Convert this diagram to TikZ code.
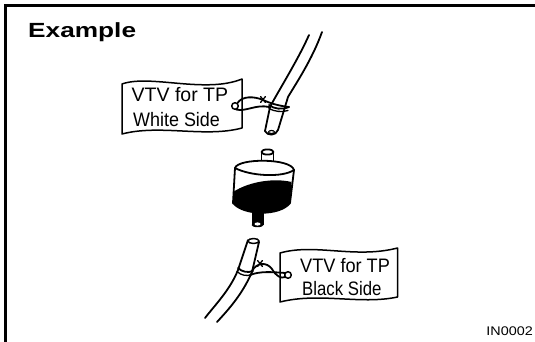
\documentclass[tikz,border=0pt]{standalone}
\usepackage{fontspec}
\setmainfont{Liberation Sans}
\begin{document}
\begin{tikzpicture}[x=1pt,y=-1pt,
  ink/.style={line width=1.8pt,line cap=round,line join=round},
  tagtext/.style={anchor=base west,inner sep=0pt,font=\fontsize{19.5}{19.5}\selectfont},
  frame/.style={line width=2.5pt}]
\useasboundingbox (0,0) rectangle (535,342);
% frame
\draw[frame] (5.5,350) -- (5.5,5.3) -- (545,5.3);
% title and code
\node[anchor=base west,inner sep=0pt,font=\bfseries\fontsize{20.5}{20.5}\selectfont] (title) at (28,37.5) {\scalebox{1.28}[1]{Example}};
\node[anchor=base east,inner sep=0pt,font=\fontsize{12.5}{12.5}\selectfont] (code) at (533,335) {\scalebox{1.15}[1]{IN0002}};

% ---------- upper hose ----------
\draw[ink] (309,35) .. controls (298,60) and (276,95) .. (270,107) -- (265,131);
\draw[ink] (322,32) .. controls (312,60) and (295,85) .. (288,97) -- (278,130);
\draw[ink] (265,131) .. controls (267,136) and (276,136) .. (278,130);
\draw[ink,line width=1.2pt] (271.5,132) ellipse [x radius=3, y radius=1.5];
% band round the hose
\draw[ink] (269,105) .. controls (274,109) and (282,110) .. (289,107);
\draw[ink,line width=1.3pt] (269,108.5) .. controls (274,111.5) and (282,112.5) .. (288,110.5);

% ---------- upper tag ----------
\draw[ink,line width=1.5pt,fill=white] (122,84) .. controls (150,74) and (205,94) .. (242,79) -- (242,128)
  .. controls (205,138) and (160,124) .. (122,134) -- cycle;
\node[tagtext] (t1a) at (131.5,102) {VTV for TP};
\node[tagtext] (t1b) at (133,126) {\scalebox{0.92}[1]{White Side}};
% grommet and wire
\draw[ink,line width=1.5pt] (235,106) circle [radius=3.3];
\draw[ink] (237.5,103) .. controls (242,96) and (254,96) .. (263,100) .. controls (272,104) and (280,106) .. (289,107);
\draw[ink] (236,109.5) .. controls (246,112) and (256,104) .. (269,107);
\draw[ink,line width=1.3pt] (260.5,96.5) -- (265.5,102.5) (265.5,96.5) -- (260.5,102.5);

% ---------- filter ----------
% top nipple
\draw[ink,fill=white] (261.5,152) -- (261.5,163) -- (273.5,163) -- (273.5,152);
\draw[ink,fill=white] (267.5,152) ellipse [x radius=6, y radius=2.6];
% body
\draw[ink,fill=white] (235,168) .. controls (238,158) and (291,158) .. (294,170)
  -- (290,203) .. controls (280,216) and (244,216) .. (233,203) -- cycle;
\draw[ink] (235,168) .. controls (250,176) and (282,178) .. (294,170);
\fill (233,192) .. controls (250,181) and (275,178) .. (291.5,182) -- (290,203)
  .. controls (280,216) and (244,216) .. (233,203) -- cycle;
% bottom nipple
\fill (251.5,205) rectangle (263.5,225);
\fill (257.5,225) ellipse [x radius=6, y radius=2.2];
\fill[white] (257.5,224) ellipse [x radius=3, y radius=1.6];

% ---------- lower hose ----------
\draw[ink] (248,240) -- (238,270) .. controls (230,290) and (215,305) .. (205,318);
\draw[ink] (259,242) -- (252,272) .. controls (242,295) and (228,310) .. (217,322);
\draw[ink,line width=1.5pt,fill=white] (253.5,241) ellipse [x radius=5.5, y radius=2.5];
\draw[ink] (238,268) .. controls (242,272) and (248,273) .. (253,271);
\draw[ink,line width=1.3pt] (237,271.5) .. controls (241,275.5) and (247,276.5) .. (252,274.5);

% ---------- lower tag ----------
\draw[ink,line width=1.5pt,fill=white] (280,253) .. controls (315,243) and (355,259) .. (397.5,248) -- (397.5,297)
  .. controls (360,305) and (320,292) .. (280,302) -- cycle;
\node[tagtext] (t2a) at (300,272) {\scalebox{0.93}[1]{VTV for TP}};
\node[tagtext] (t2b) at (302,295.5) {\scalebox{0.86}[1]{Black Side}};
% grommet and wire
\draw[ink,line width=1.5pt] (288,275) circle [radius=3.3];
\draw[ink] (252,271) .. controls (257,262) and (267,262) .. (272,269) .. controls (276,276) and (281,279) .. (285,277);
\draw[ink] (250,275) .. controls (260,271) and (272,272) .. (285.5,273);
\draw[ink,line width=1.3pt] (257.5,260.5) -- (262.5,266.5) (262.5,260.5) -- (257.5,266.5);
\end{tikzpicture}
\end{document}
